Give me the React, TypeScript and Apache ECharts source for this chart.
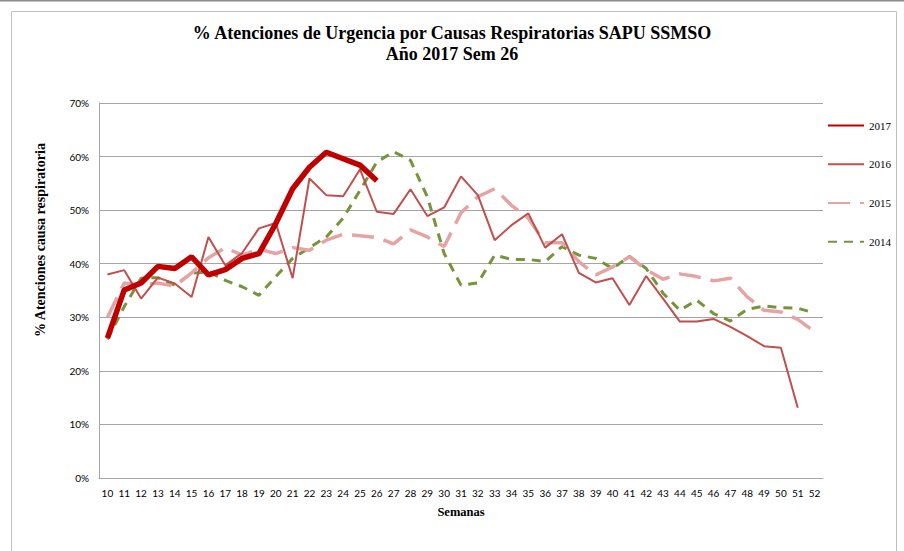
import React, { useEffect, useRef } from "react";
import * as echarts from "echarts";

const weeks = Array.from({ length: 43 }, (_, i) => String(10 + i));

const y2017 = [26.1, 35.1, 36.4, 39.5, 39.1, 41.3, 37.9, 38.9, 41.0, 41.9, 47.5, 54.0, 58.0, 60.8, 59.6, 58.4, 55.5];
const y2016 = [38.0, 38.8, 33.5, 37.4, 36.3, 33.8, 45.0, 39.7, 42.0, 46.6, 47.6, 37.3, 55.9, 52.8, 52.6, 57.6, 49.7,
  49.3, 53.9, 48.9, 50.5, 56.3, 52.8, 44.4, 47.2, 49.4, 43.0, 45.5, 38.3, 36.5, 37.3, 32.3, 37.7, 33.5,
  29.2, 29.2, 29.7, 28.2, 26.5, 24.6, 24.3, 13.1];
const y2015 = [30.0, 36.4, 36.0, 36.4, 35.8, 38.3, 41.1, 43.0, 41.6, 42.7, 41.9, 43.0, 42.5, 44.4, 45.5, 45.2, 44.9,
  43.7, 46.3, 45.0, 43.2, 49.5, 52.5, 54.0, 50.9, 48.5, 43.9, 43.9, 40.4, 37.9, 39.4, 41.3, 38.9, 37.1,
  38.1, 37.6, 36.8, 37.3, 33.8, 31.3, 31.0, 29.6, 27.3];
const y2014 = [25.9, 32.0, 37.3, 37.4, 36.0, 38.2, 38.5, 36.9, 35.7, 34.1, 37.6, 41.0, 43.0, 45.0, 48.5, 53.7, 59.0,
  60.9, 59.3, 52.5, 41.9, 36.0, 36.4, 41.6, 40.8, 40.8, 40.4, 43.2, 41.6, 41.0, 39.1, 41.4, 39.1, 34.5,
  31.3, 33.2, 30.7, 29.3, 31.5, 32.1, 31.8, 31.7, 30.8];

const yTicks = [0, 10, 20, 30, 40, 50, 60, 70];

const serif = "'Liberation Serif', 'DejaVu Serif', serif";
const sans = "Lato, 'Liberation Sans', sans-serif";

export default function App() {
  const ref = useRef<HTMLDivElement>(null);
  useEffect(() => {
    if (!ref.current) return;
    const chart = echarts.init(ref.current, null, { renderer: "svg" });
    chart.setOption({
      animation: false,
      backgroundColor: "#ffffff",
      title: {
        text: "% Atenciones de Urgencia por Causas Respiratorias SAPU SSMSO\nAño 2017 Sem 26",
        left: "center",
        top: 17,
        textStyle: { fontFamily: serif, fontWeight: "bold", fontSize: 18, color: "#000", lineHeight: 21 },
      },
      graphic: [
        { type: "line", shape: { x1: 0, y1: 0.5, x2: 904, y2: 0.5 }, style: { stroke: "#8c8c8c", lineWidth: 2 } },
        { type: "rect", shape: { x: 11.5, y: 11.5, width: 885, height: 560 }, style: { fill: "none", stroke: "#bfbfbf", lineWidth: 1 } },
        {
          type: "text",
          x: 40,
          y: 240,
          rotation: Math.PI / 2,
          style: {
            text: "% Atenciones causa respiratoria",
            fontFamily: serif,
            fontWeight: "bold",
            fontSize: 14,
            fill: "#000",
            align: "center",
            verticalAlign: "middle",
          },
        },
      ],
      legend: {
        orient: "vertical",
        left: 822,
        top: 115,
        itemWidth: 36,
        itemHeight: 14,
        itemGap: 27.5,
        itemStyle: { opacity: 0 },
        textStyle: { fontFamily: serif, fontSize: 11, color: "#000" },
        data: ["2017", "2016", "2015", "2014"],
      },
      grid: { left: 99, right: 81, top: 103, bottom: 73 },
      xAxis: {
        type: "category",
        data: weeks,
        boundaryGap: true,
        name: "Semanas",
        nameLocation: "middle",
        nameGap: 27,
        nameTextStyle: { fontFamily: serif, fontWeight: "bold", fontSize: 12.5, color: "#000" },
        axisLine: { lineStyle: { color: "#a6a6a6", width: 1 } },
        axisTick: { show: false },
        axisLabel: { interval: 0, fontFamily: sans, fontSize: 10, color: "#000", margin: 10 },
      },
      yAxis: {
        type: "value",
        min: 0,
        max: 70,
        interval: 10,
        axisLine: { show: true, lineStyle: { color: "#a6a6a6", width: 1 } },
        axisTick: { show: false },
        splitLine: { lineStyle: { color: "#a6a6a6", width: 1 } },
        axisLabel: {
          fontFamily: sans,
          fontSize: 10,
          color: "#000",
          margin: 10,
          formatter: (v: number) => (yTicks.includes(v) ? v + "%" : ""),
        },
      },
      series: [
        {
          name: "2014",
          type: "line",
          data: y2014,
          showSymbol: false,
          symbol: "none",
          z: 2,
          lineStyle: { color: "#77933C", width: 3, type: [9, 7] },
          itemStyle: { color: "#77933C" },
        },
        {
          name: "2015",
          type: "line",
          data: y2015,
          showSymbol: false,
          symbol: "none",
          z: 3,
          lineStyle: { color: "#E6A3A3", width: 3.5, type: [22, 10] },
          itemStyle: { color: "#E6A3A3" },
        },
        {
          name: "2016",
          type: "line",
          data: y2016,
          showSymbol: false,
          symbol: "none",
          z: 4,
          lineStyle: { color: "#C0504D", width: 2 },
          itemStyle: { color: "#C0504D" },
        },
        {
          name: "2017",
          type: "line",
          data: y2017,
          showSymbol: false,
          symbol: "none",
          z: 5,
          lineStyle: { color: "#C00000", width: 5.5 },
          itemStyle: { color: "#C00000" },
        },
      ],
    });
    return () => chart.dispose();
  }, []);
  return <div ref={ref} style={{ width: 904, height: 551, position: "absolute", left: 0, top: 0 }} />;
}
